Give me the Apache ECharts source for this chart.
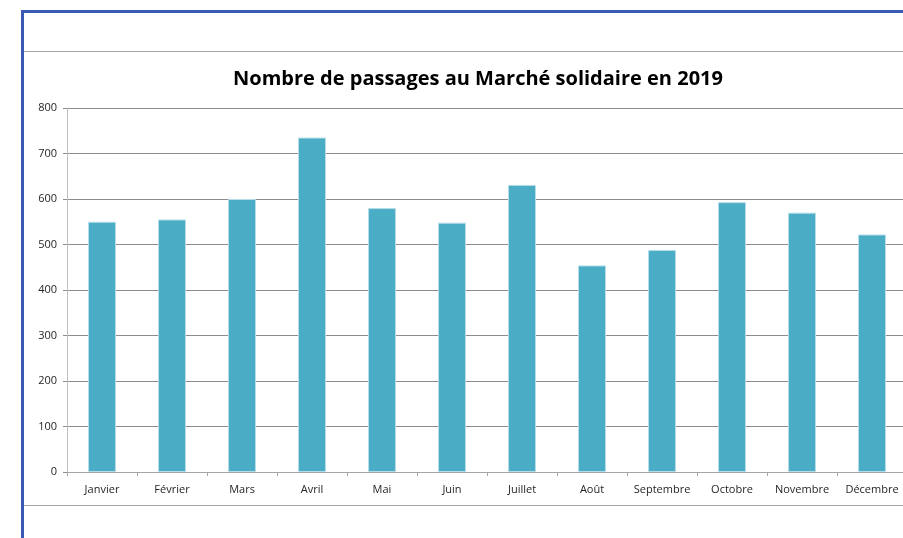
<!DOCTYPE html>
<html>
<head>
<meta charset="utf-8">
<script src="https://cdn.jsdelivr.net/npm/echarts@6/dist/echarts.min.js"></script>
<style>
  html, body { margin: 0; padding: 0; width: 903px; height: 538px; overflow: hidden; background: #fff; }
  .frameTop { position: absolute; left: 21px; top: 10px; width: 900px; height: 3px; background: #3a5bb5; }
  .frameLeft { position: absolute; left: 21px; top: 10px; width: 3px; height: 540px; background: #3a5bb5; }
  .rule { position: absolute; left: 24px; width: 900px; height: 1px; background: #a6a6a6; }
  #chart { position: absolute; left: 0; top: 0; width: 907px; height: 538px; }
</style>
</head>
<body>
<div class="frameTop"></div>
<div class="frameLeft"></div>
<div class="rule" style="top:51px"></div>
<div class="rule" style="top:505px"></div>
<div id="chart"></div>
<script>
// Nombre de passages par mois
const months = ['Janvier', 'Février', 'Mars', 'Avril', 'Mai', 'Juin',
  'Juillet', 'Août', 'Septembre', 'Octobre', 'Novembre', 'Décembre']
const passages = [550, 555, 600, 735, 580, 548, 631, 454, 488, 593, 570, 522]
const yMax = 800
const yStep = 100

const chart = echarts.init(document.getElementById('chart'))
chart.setOption({
  animation: false,
  textStyle: { fontFamily: 'Open Sans' },
  title: {
    text: 'Nombre de passages au Marché solidaire en 2019',
    left: 473,
    top: 64,
    textAlign: 'center',
    textStyle: { fontSize: 20, fontWeight: 'bold', color: '#000', fontFamily: 'Open Sans' }
  },
  grid: { left: 67, right: 0, top: 108, bottom: 66 },
  xAxis: {
    type: 'category',
    data: months,
    axisLine: { lineStyle: { color: '#a6a6a6' } },
    axisTick: { show: true, length: 4, lineStyle: { color: '#a6a6a6' } },
    axisLabel: { color: '#262626', fontSize: 11, margin: 12, interval: 0 }
  },
  yAxis: {
    type: 'value',
    min: 0,
    max: yMax,
    interval: yStep,
    axisLine: { show: true, lineStyle: { color: '#bfbfbf' } },
    axisTick: { show: true, length: 4, lineStyle: { color: '#8c8c8c' } },
    axisLabel: { color: '#262626', fontSize: 11, margin: 10 },
    splitLine: { lineStyle: { color: '#8c8c8c' } }
  },
  series: [{
    type: 'bar',
    data: passages,
    barWidth: '40%',
    itemStyle: { color: '#4bacc6', borderColor: '#b7dde8', borderWidth: 1 }
  }]
})
</script>
</body>
</html>
